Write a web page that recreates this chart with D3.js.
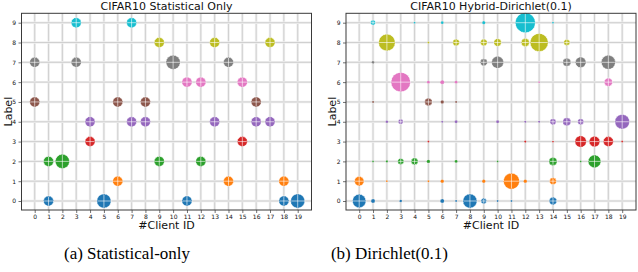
<!DOCTYPE html>
<html>
<head>
<meta charset="utf-8">
<script src="https://cdnjs.cloudflare.com/ajax/libs/d3/7.8.5/d3.min.js"></script>
<style>
    body { margin: 0; background: #fff; }
    svg { display: block; }
</style>
</head>
<body>
<div id="chart-area"></div>
<script>

// tab10 colours, one per label
let labelColors = ["#1f77b4", "#ff7f0e", "#2ca02c", "#d62728", "#9467bd",
                   "#8c564b", "#e377c2", "#7f7f7f", "#bcbd22", "#17becf"];

let clientTicks = d3.range(0, 20);
let labelTicks = d3.range(0, 10);

// [client, label, samples] -- statistical-only split
let statPoints = [
    [3, 9, 250], [7, 9, 250],
    [9, 8, 250], [13, 8, 250], [17, 8, 250],
    [0, 7, 250], [3, 7, 250], [10, 7, 500], [14, 7, 250],
    [11, 6, 250], [12, 6, 250], [15, 6, 250],
    [0, 5, 250], [6, 5, 250], [8, 5, 250], [16, 5, 250],
    [4, 4, 250], [7, 4, 250], [8, 4, 250], [13, 4, 250], [16, 4, 250], [17, 4, 250],
    [4, 3, 250], [15, 3, 250],
    [1, 2, 250], [2, 2, 500], [9, 2, 250], [12, 2, 250],
    [6, 1, 250], [14, 1, 250], [18, 1, 250],
    [1, 0, 250], [5, 0, 500], [11, 0, 250], [18, 0, 250], [19, 0, 500]
];

// [client, label, samples] -- hybrid dirichlet(0.1) split
let dirPoints = [
    [1, 9, 62], [4, 9, 8], [6, 9, 20], [9, 9, 25], [12, 9, 1000], [14, 9, 8],
    [2, 8, 690], [5, 8, 10], [7, 8, 110], [9, 8, 110], [10, 8, 137], [12, 8, 160], [13, 8, 810], [15, 8, 90],
    [1, 7, 17], [9, 7, 122], [10, 7, 360], [15, 7, 160], [16, 7, 280], [18, 7, 490],
    [3, 6, 940], [5, 6, 22], [6, 6, 40], [7, 6, 22], [13, 6, 8], [18, 6, 160],
    [1, 5, 10], [5, 5, 137], [6, 5, 29], [7, 5, 10],
    [2, 4, 17], [3, 4, 62], [6, 4, 10], [7, 4, 22], [10, 4, 22], [12, 4, 12], [13, 4, 12],
    [14, 4, 90], [15, 4, 160], [16, 4, 90], [19, 4, 530],
    [5, 3, 10], [12, 3, 12], [14, 3, 8], [16, 3, 325], [17, 3, 280], [18, 3, 250], [19, 3, 10],
    [1, 2, 8], [2, 2, 12], [3, 2, 90], [4, 2, 110], [5, 2, 29], [7, 2, 22], [10, 2, 8],
    [14, 2, 160], [16, 2, 8], [17, 2, 400],
    [0, 1, 220], [2, 1, 8], [5, 1, 10], [6, 1, 29], [9, 1, 29], [11, 1, 640], [12, 1, 29], [14, 1, 110],
    [0, 0, 450], [1, 0, 40], [3, 0, 17], [6, 0, 40], [7, 0, 10], [8, 0, 490], [9, 0, 73],
    [10, 0, 8], [11, 0, 8], [14, 0, 137]
];

let svg = d3.select("#chart-area").append("svg")
    .attr("width", 638)
    .attr("height", 272);

let rScale = d3.scaleSqrt().domain([0, 1000]).range([0, 10]);

class BubbleVis {

    constructor(_svg, _data, _title, _caption, _box) {
        this.svg = _svg;
        this.data = _data;
        this.title = _title;
        this.caption = _caption;
        this.box = _box;

        this.initVis();
    }

    initVis() {
        let vis = this;
        let b = vis.box;

        vis.g = vis.svg.append("g");

        // tick 0 / tick 19 positions measured off the frame
        vis.x = d3.scaleLinear().domain([0, 19]).range([b.left + 13.2, b.right - 13.8]);
        vis.y = d3.scaleLinear().domain([0, 9]).range([b.bottom - 9, b.top + 9.4]);

        // grid
        let grid = vis.g.append("g").attr("class", "grid");
        grid.selectAll(".vgrid-wide")
            .data(clientTicks)
            .enter().append("line")
            .attr("x1", d => vis.x(d)).attr("x2", d => vis.x(d))
            .attr("y1", b.top).attr("y2", b.bottom)
            .attr("stroke", "#efefef")
            .attr("stroke-width", 2.6);
        grid.selectAll(".vgrid")
            .data(clientTicks)
            .enter().append("line")
            .attr("x1", d => vis.x(d)).attr("x2", d => vis.x(d))
            .attr("y1", b.top).attr("y2", b.bottom)
            .attr("stroke", "#c8c8c8")
            .attr("stroke-width", 0.8);
        grid.selectAll(".hgrid-wide")
            .data(labelTicks)
            .enter().append("line")
            .attr("x1", b.left).attr("x2", b.right)
            .attr("y1", d => vis.y(d)).attr("y2", d => vis.y(d))
            .attr("stroke", "#efefef")
            .attr("stroke-width", 2.4);
        grid.selectAll(".hgrid")
            .data(labelTicks)
            .enter().append("line")
            .attr("x1", b.left).attr("x2", b.right)
            .attr("y1", d => vis.y(d)).attr("y2", d => vis.y(d))
            .attr("stroke", "#c8c8c8")
            .attr("stroke-width", 0.8);

        // axes
        let xAxis = d3.axisBottom(vis.x).tickValues(clientTicks).tickSize(3).tickPadding(1.5);
        let yAxis = d3.axisLeft(vis.y).tickValues(labelTicks).tickSize(3).tickPadding(2.5);

        vis.g.append("g")
            .attr("class", "x-axis")
            .attr("transform", "translate(0," + b.bottom + ")")
            .call(xAxis);
        vis.g.append("g")
            .attr("class", "y-axis")
            .attr("transform", "translate(" + b.left + ",0)")
            .call(yAxis);

        vis.g.selectAll(".x-axis .domain, .y-axis .domain").remove();
        vis.g.selectAll(".tick line").attr("stroke", "#333").attr("stroke-width", 0.7);
        vis.g.selectAll(".tick text")
            .attr("fill", "#111")
            .style("font-family", "DejaVu Sans")
            .style("font-size", "6px");

        // titles
        vis.g.append("text")
            .attr("x", (b.left + b.right) / 2)
            .attr("y", b.top - 3)
            .attr("text-anchor", "middle")
            .attr("style", "font-family: 'DejaVu Sans'; font-size: 11px; fill: #111")
            .text(vis.title);

        vis.g.append("text")
            .attr("x", (b.left + b.right) / 2)
            .attr("y", b.bottom + 18.5)
            .attr("text-anchor", "middle")
            .attr("style", "font-family: 'DejaVu Sans'; font-size: 11px; fill: #111")
            .text("#Client ID");

        vis.g.append("text")
            .attr("transform", "rotate(-90)")
            .attr("x", -(b.top + b.bottom) / 2)
            .attr("y", b.left - 10)
            .attr("text-anchor", "middle")
            .attr("style", "font-family: 'DejaVu Sans'; font-size: 11px; fill: #111")
            .text("Label");

        vis.g.append("text")
            .attr("x", b.captionX)
            .attr("y", 259)
            .attr("text-anchor", "middle")
            .attr("style", "font-family: 'Liberation Serif'; font-size: 17px; fill: #000")
            .text(vis.caption);

        vis.updateVis();
    }

    updateVis() {
        let vis = this;
        let b = vis.box;

        let dots = vis.g.append("g").attr("class", "dots")
            .selectAll(".dot")
            .data(vis.data)
            .enter().append("g")
            .attr("class", "dot")
            .attr("transform", d => "translate(" + vis.x(d[0]) + "," + vis.y(d[1]) + ")");

        dots.append("circle")
            .attr("r", d => rScale(d[2]))
            .attr("fill", d => labelColors[d[1]])
            .attr("stroke", "#fff")
            .attr("stroke-width", d => rScale(d[2]) > 2 ? 0.8 : 0.3)
            .attr("stroke-dasharray", "1,0.8");

        // hatch cross through bigger markers
        let crossed = dots.filter(d => rScale(d[2]) > 2.4);
        crossed.append("line")
            .attr("x1", d => -rScale(d[2]) + 0.6).attr("x2", d => rScale(d[2]) - 0.6)
            .attr("y1", 0).attr("y2", 0)
            .attr("stroke", "#fff").attr("stroke-opacity", 0.75).attr("stroke-width", 0.8);
        crossed.append("line")
            .attr("y1", d => -rScale(d[2]) + 0.6).attr("y2", d => rScale(d[2]) - 0.6)
            .attr("x1", 0).attr("x2", 0)
            .attr("stroke", "#fff").attr("stroke-opacity", 0.75).attr("stroke-width", 0.8);

        // frame
        vis.g.append("rect")
            .attr("x", b.left)
            .attr("y", b.top)
            .attr("width", b.right - b.left)
            .attr("height", b.bottom - b.top)
            .attr("fill", "none")
            .attr("stroke", "#3a3a3a")
            .attr("stroke-width", 1);
    }
}

new BubbleVis(svg, statPoints, "CIFAR10 Statistical Only", "(a) Statistical-only",
    {left: 21.5, right: 311.5, top: 13.3, bottom: 210, captionX: 127});
new BubbleVis(svg, dirPoints, "CIFAR10 Hybrid-Dirichlet(0.1)", "(b) Dirichlet(0.1)",
    {left: 346, right: 636, top: 13.3, bottom: 210, captionX: 389.5});

</script>
</body>
</html>
